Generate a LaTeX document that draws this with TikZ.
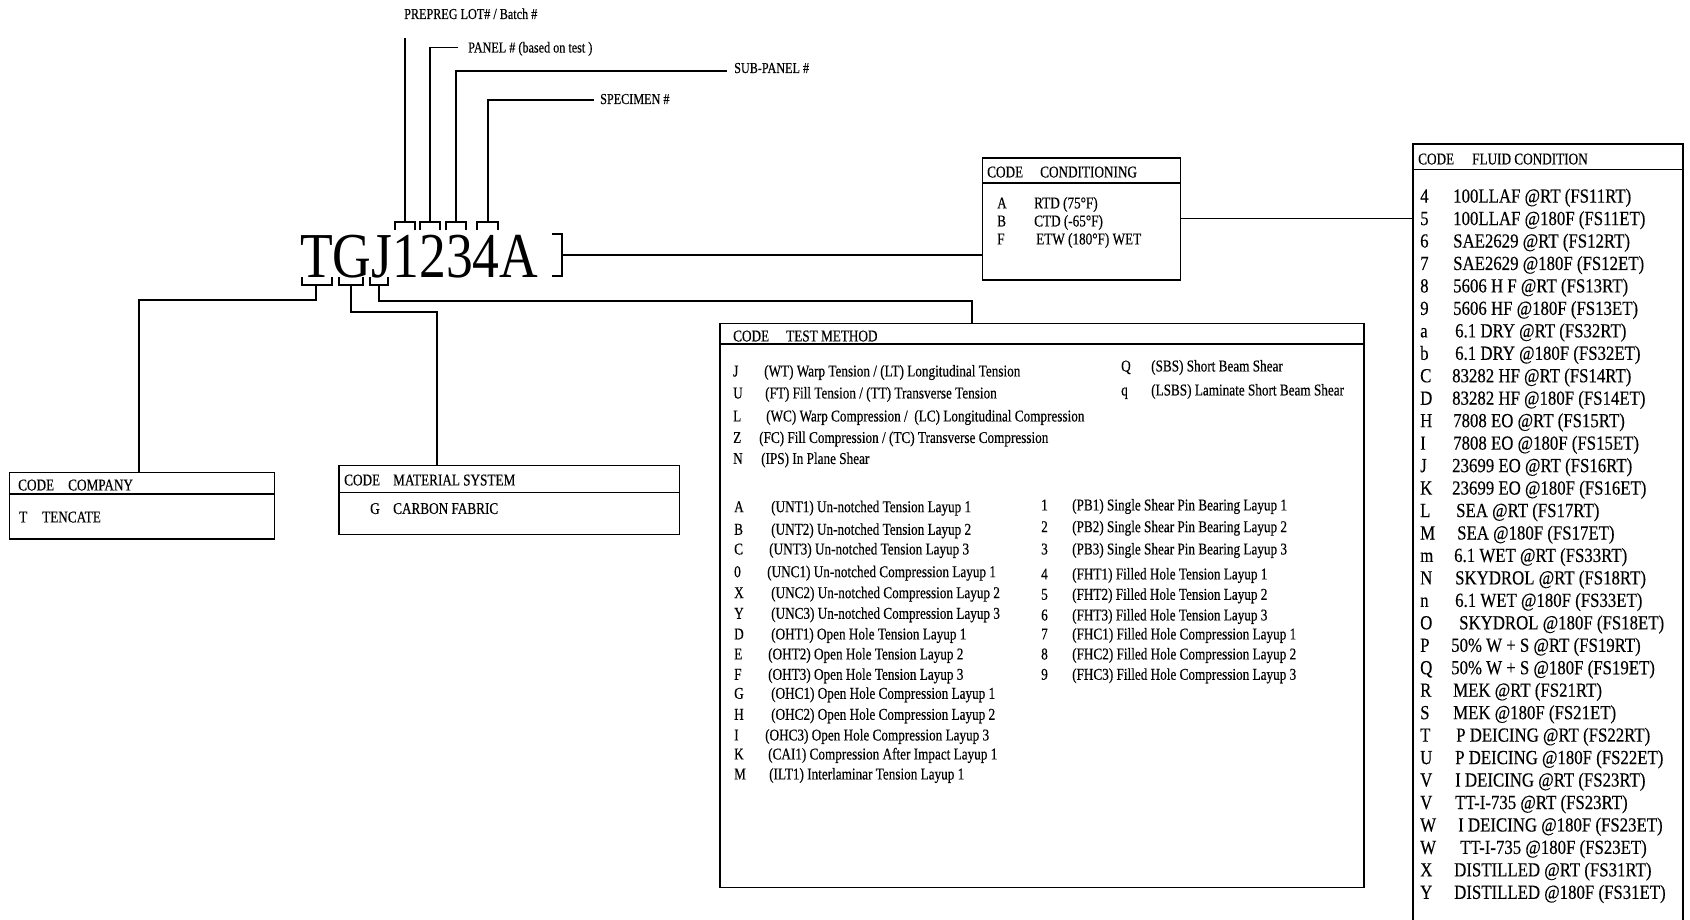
\documentclass[tikz,border=0pt]{standalone}
\usepackage{fontspec}
\setmainfont{Liberation Serif}
\newfontfamily\smf[FakeStretch=0.8,FakeBold=0.4]{Liberation Serif}
\newfontfamily\flf[FakeStretch=0.84,FakeBold=0.3]{Liberation Serif}
\newfontfamily\bigf[FakeStretch=0.837]{Liberation Serif}
\tikzset{
  lbl/.style={inner sep=0pt, anchor=west, font=\smf\fontsize{16.5}{16.5}\selectfont, text height=10.9pt, text depth=0pt},
  toplbl/.style={inner sep=0pt, anchor=west, font=\smf\fontsize{15.2}{15.2}\selectfont, text height=10pt, text depth=0pt},
  fl/.style={inner sep=0pt, anchor=west, font=\flf\fontsize{20}{20}\selectfont, text height=13.2pt, text depth=0pt},
  box/.style={draw, line width=1.6pt, inner sep=0pt, anchor=north west},
  conn/.style={line width=1.3pt},
}
\begin{document}
\begin{tikzpicture}[x=1pt,y=-1pt]
\useasboundingbox (0,0) rectangle (1690,920);
\clip (0,0) rectangle (1690,920);

% ---------- main code ----------
\node[inner sep=0pt, anchor=base west, font=\bigf\fontsize{64}{64}\selectfont] (code) at (300,278) {TGJ1234A};

% ---------- top labels ----------
\node[toplbl] (pre) at (404,14) {PREPREG LOT\# / Batch \#};
\node[toplbl] (panel) at (468,47.5) {PANEL \# (based on test )};
\node[toplbl] (sub) at (734,68) {SUB-PANEL \#};
\node[toplbl] (spec) at (600,99) {SPECIMEN \#};

\coordinate (preEnd) at (405,38);
\coordinate (b1) at (405,222);
\coordinate (b2) at (430,222);
\coordinate (b3) at (456,222);
\coordinate (b4) at (488,222);

\draw[conn] (preEnd) -- (b1);
\draw[conn] ([xshift=-10pt]panel.west) -| (b2);
\draw[conn] ([xshift=-7pt]sub.west |- 0,71) -| (b3);
\draw[conn] ([xshift=-6pt]spec.west |- 0,100) -| (b4);

% top brackets
\draw[conn] (395,230) |- (415,222) -- (415,230);
\draw[conn] (420,230) |- (440,222) -- (440,230);
\draw[conn] (446,230) |- (466,222) -- (466,230);
\draw[conn] (477,230) |- (498,222) -- (498,230);

% right bracket
\draw[conn] (552,234) -| (562,276) -- (552,276);
\coordinate (rb) at (562,255);

% bottom brackets
\draw[conn] (302,277) |- (332,285) -- (332,277);
\draw[conn] (339,277) |- (363,285) -- (363,277);
\draw[conn] (370,277) |- (388,285) -- (388,277);
\coordinate (bT) at (316,285);
\coordinate (bG) at (351,285);
\coordinate (bJ) at (379,285);

% ---------- boxes ----------
\node[box, minimum width=265pt, minimum height=66.5pt] (comp) at (8.6,471.5) {};
\node[box, minimum width=340.6pt, minimum height=69pt] (mat) at (338,464.5) {};
\node[box, minimum width=198pt, minimum height=122pt] (cond) at (981.5,157) {};
\node[box, minimum width=644pt, minimum height=564pt] (tm) at (719,322.5) {};
\node[box, minimum width=270pt, minimum height=790pt] (fluid) at (1412,143.5) {};

\draw[conn] (comp.west |- 0,494) -- (comp.east |- 0,494);
\draw[conn] (mat.west |- 0,492.5) -- (mat.east |- 0,492.5);
\draw[conn] (cond.west |- 0,183) -- (cond.east |- 0,183);
\draw[conn] (tm.west |- 0,344) -- (tm.east |- 0,344);
\draw[conn] (fluid.west |- 0,169.5) -- (fluid.east |- 0,169.5);

% ---------- connectors ----------
\draw[conn] (bT) |- (139,300) -- (139,0 |- comp.north);
\draw[conn] (bG) |- (437,312) -- (437,0 |- mat.north);
\draw[conn] (bJ) |- (972,301) -- (972,0 |- tm.north);
\draw[conn] (rb) -- (cond.west |- rb);
\draw[conn] (cond.east) -- (fluid.west |- cond.east);

% ---------- company ----------
\node[lbl] (compH1) at (18,485) {CODE};
\node[lbl] (compH2) at (68,485) {COMPANY};
\node[lbl] (compC) at (19,517) {T};
\node[lbl] (compT) at (42,517) {TENCATE};

% ---------- material ----------
\node[lbl] (matH1) at (344,480) {CODE};
\node[lbl] (matH2) at (393,480) {MATERIAL SYSTEM};
\node[lbl] (matC) at (370,508.5) {G};
\node[lbl] (matT) at (393,508.5) {CARBON FABRIC};

% ---------- conditioning ----------
\node[lbl] (condH1) at (987,172) {CODE};
\node[lbl] (condH2) at (1040,172) {CONDITIONING};
\foreach \c/\t/\y/\tx [count=\i] in {A/{RTD (75°F)}/203/1034, B/{CTD (-65°F)}/221/1034, F/{ETW (180°F) WET}/239/1036}{
  \node[lbl] (condC\i) at (997,\y) {\c};
  \node[lbl] (condT\i) at (\tx,\y) {\t};
}

% ---------- test method ----------
\node[lbl] (tmH1) at (733,336) {CODE};
\node[lbl] (tmH2) at (786,336) {TEST METHOD};
\foreach \c/\t/\y/\tx [count=\i] in {
  J/{(WT) Warp Tension / (LT) Longitudinal Tension}/371/764,
  U/{(FT) Fill Tension / (TT) Transverse Tension}/393/765,
  L/{(WC) Warp Compression /~ (LC) Longitudinal Compression}/416/766,
  Z/{(FC) Fill Compression / (TC) Transverse Compression}/437.5/759,
  N/{(IPS) In Plane Shear}/458.5/761}{
  \node[lbl] (tmaC\i) at (733,\y) {\c};
  \node[lbl] (tmaT\i) at (\tx,\y) {\t};
}
\foreach \c/\t/\y [count=\i] in {
  Q/{(SBS) Short Beam Shear}/366,
  q/{(LSBS) Laminate Short Beam Shear}/390}{
  \node[lbl] (tmbC\i) at (1121,\y) {\c};
  \node[lbl] (tmbT\i) at (1151,\y) {\t};
}
\foreach \c/\t/\y/\o [count=\i] in {
  A/{(UNT1) Un-notched Tension Layup 1}/506.7/0,
  B/{(UNT2) Un-notched Tension Layup 2}/529.3/0,
  C/{(UNT3) Un-notched Tension Layup 3}/549/-2,
  0/{(UNC1) Un-notched Compression Layup 1}/571.7/-4,
  X/{(UNC2) Un-notched Compression Layup 2}/592.7/0,
  Y/{(UNC3) Un-notched Compression Layup 3}/613.3/0,
  D/{(OHT1) Open Hole Tension Layup 1}/634/0,
  E/{(OHT2) Open Hole Tension Layup 2}/654/-3,
  F/{(OHT3) Open Hole Tension Layup 3}/674.3/-3,
  G/{(OHC1) Open Hole Compression Layup 1}/693.3/0,
  H/{(OHC2) Open Hole Compression Layup 2}/714.3/0,
  I/{(OHC3) Open Hole Compression Layup 3}/735/-6,
  K/{(CAI1) Compression After Impact Layup 1}/754/-3,
  M/{(ILT1) Interlaminar Tension Layup 1}/774/-2}{
  \node[lbl] (tmcC\i) at (734,\y) {\c};
  \node[lbl] (tmcT\i) at ({771+\o},\y) {\t};
}
\foreach \c/\t/\y [count=\i] in {
  1/{(PB1) Single Shear Pin Bearing Layup 1}/505,
  2/{(PB2) Single Shear Pin Bearing Layup 2}/526.7,
  3/{(PB3) Single Shear Pin Bearing Layup 3}/549,
  4/{(FHT1) Filled Hole Tension Layup 1}/574,
  5/{(FHT2) Filled Hole Tension Layup 2}/594.3,
  6/{(FHT3) Filled Hole Tension Layup 3}/615,
  7/{(FHC1) Filled Hole Compression Layup 1}/634,
  8/{(FHC2) Filled Hole Compression Layup 2}/654,
  9/{(FHC3) Filled Hole Compression Layup 3}/674.3}{
  \node[lbl] (tmdC\i) at (1041,\y) {\c};
  \node[lbl] (tmdT\i) at (1072,\y) {\t};
}

% ---------- fluid condition ----------
\node[lbl] (flH1) at (1418,159) {CODE};
\node[lbl] (flH2) at (1472,159) {FLUID CONDITION};
\foreach \c/\t/\o [count=\i from 0] in {
  4/{100LLAF @RT (FS11RT)}/0,
  5/{100LLAF @180F (FS11ET)}/0,
  6/{SAE2629 @RT (FS12RT)}/0,
  7/{SAE2629 @180F (FS12ET)}/0,
  8/{5606 H F @RT (FS13RT)}/0,
  9/{5606 HF @180F (FS13ET)}/0,
  a/{6.1 DRY @RT (FS32RT)}/2,
  b/{6.1 DRY @180F (FS32ET)}/2,
  C/{83282 HF @RT (FS14RT)}/-1,
  D/{83282 HF @180F (FS14ET)}/-1,
  H/{7808 EO @RT (FS15RT)}/0,
  I/{7808 EO @180F (FS15ET)}/0,
  J/{23699 EO @RT (FS16RT)}/-1,
  K/{23699 EO @180F (FS16ET)}/-1,
  L/{SEA @RT (FS17RT)}/3,
  M/{SEA @180F (FS17ET)}/4,
  m/{6.1 WET @RT (FS33RT)}/1,
  N/{SKYDROL @RT (FS18RT)}/2,
  n/{6.1 WET @180F (FS33ET)}/2,
  O/{SKYDROL @180F (FS18ET)}/6,
  P/{50\% W + S @RT (FS19RT)}/-2,
  Q/{50\% W + S @180F (FS19ET)}/-2,
  R/{MEK @RT (FS21RT)}/0,
  S/{MEK @180F (FS21ET)}/0,
  T/{P DEICING @RT (FS22RT)}/3,
  U/{P DEICING @180F (FS22ET)}/2,
  V/{I DEICING @RT (FS23RT)}/2,
  V/{TT-I-735 @RT (FS23RT)}/2,
  W/{I DEICING @180F (FS23ET)}/5,
  W/{TT-I-735 @180F (FS23ET)}/7,
  X/{DISTILLED @RT (FS31RT)}/1,
  Y/{DISTILLED @180F (FS31ET)}/1}{
  \node[fl] (flC\i) at (1420,{196+22.46*\i}) {\c};
  \node[fl] (flT\i) at ({1453+\o},{196+22.46*\i}) {\t};
}
\end{tikzpicture}
\end{document}
